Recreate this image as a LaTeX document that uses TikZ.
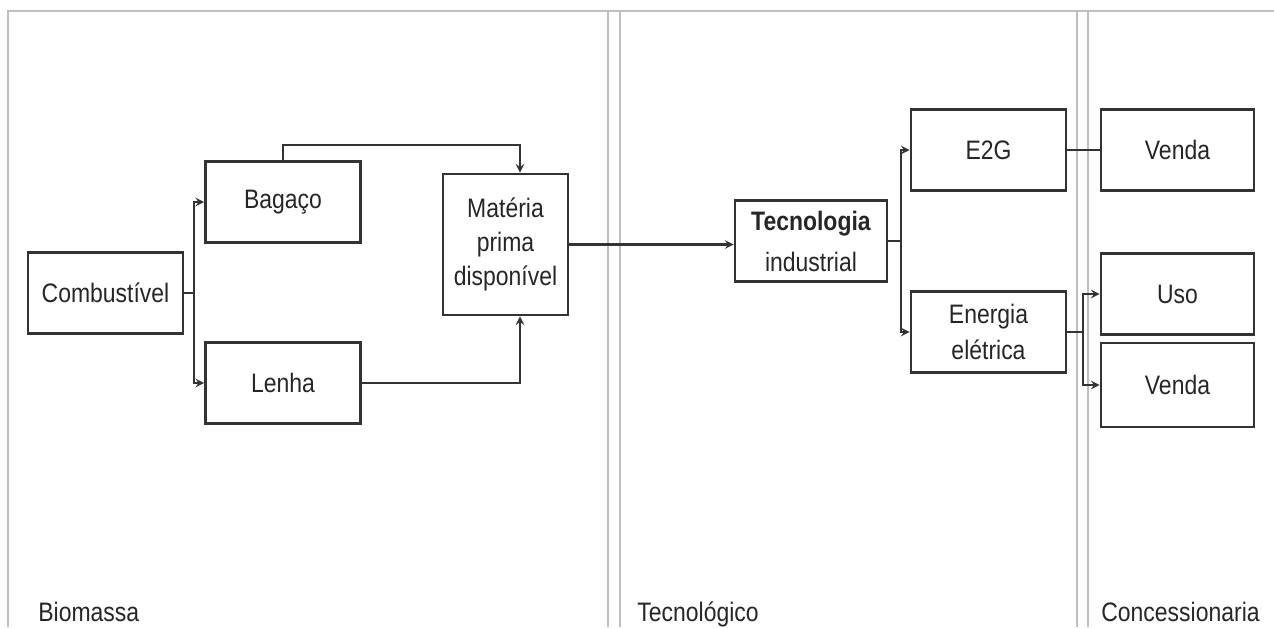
\documentclass[tikz,border=0pt]{standalone}
\usepackage{fontspec}
\setmainfont{Liberation Sans}[FakeStretch=0.86]
\usepackage{tikz}
\usetikzlibrary{arrows,calc,positioning}
\tikzset{
  bloco/.style={draw=black!80, line width=1.5pt, minimum width=3.1cm, minimum height=1.62cm,
    inner sep=0pt, align=center, text=black!85},
  flecha/.style={draw=black!80, line width=1.2pt, -stealth},
  linha/.style={draw=black!80, line width=1.2pt},
  sep/.style={draw=black!25, line width=1.1pt},
  rotulo/.style={anchor=base west, inner sep=0pt, text=black!85}
}
\begin{document}
\begin{tikzpicture}[x=0.02cm, y=-0.02cm, font=\fontsize{15.2}{19.3}\selectfont]
\useasboundingbox (0,0) rectangle (1274,627);
\draw[sep] (8,627) -- (8,11) -- (1274,11);
\foreach \x in {608,620,1077,1088}
  \draw[sep] (\x,11) -- (\x,627);

\node[bloco] (comb) at (105.5,293) {Combustível};
\node[bloco] (bag) at (283,202) {Bagaço};
\node[bloco] (len) at (283,383) {Lenha};
\node[bloco, minimum width=2.5cm, minimum height=2.82cm] (mat) at (505.5,244.5) {Matéria\\prima\\disponível};
\node[bloco, minimum width=3.04cm] (tec) at (811,241) {\textbf{Tecnologia}\\[4pt]industrial};
\node[bloco] (e2g) at (988.5,150) {E2G};
\node[bloco] (ene) at (988.5,332) {Energia\\[1pt]elétrica};
\node[bloco, minimum width=3.06cm] (vendaA) at (1177.5,150) {Venda};
\node[bloco, minimum width=3.06cm] (uso) at (1177.5,294) {Uso};
\node[bloco, minimum width=3.06cm, minimum height=1.68cm] (vendaB) at (1177.5,385) {Venda};

\coordinate (mattopo) at ($(mat.north)+(14.5,0)$);
\coordinate (matbase) at ($(mat.south)+(14.5,0)$);

\draw[flecha] (comb.east) -- ++(10,0) |- (bag.west);
\draw[flecha] (comb.east) -- ++(10,0) |- (len.west);
\draw[flecha] (bag.north) -- ++(0,-15) -| (mattopo);
\draw[flecha] (len.east) -| (matbase);
\draw[flecha] (mat.east) -- (mat.east -| tec.west);
\draw[flecha] (tec.east) -- ++(13,0) |- (e2g.west);
\draw[flecha] (tec.east) -- ++(13,0) |- (ene.west);
\draw[linha] (e2g.east) -- (vendaA.west);
\draw[flecha] (ene.east) -- ++(16,0) |- (uso.west);
\draw[flecha] (ene.east) -- ++(16,0) |- (vendaB.west);

\node[rotulo] (bio) at (38,621) {Biomassa};
\node[rotulo] (tecno) at (637,621) {Tecnológico};
\node[rotulo] (conc) at (1101,621) {Concessionaria};
\end{tikzpicture}
\end{document}
